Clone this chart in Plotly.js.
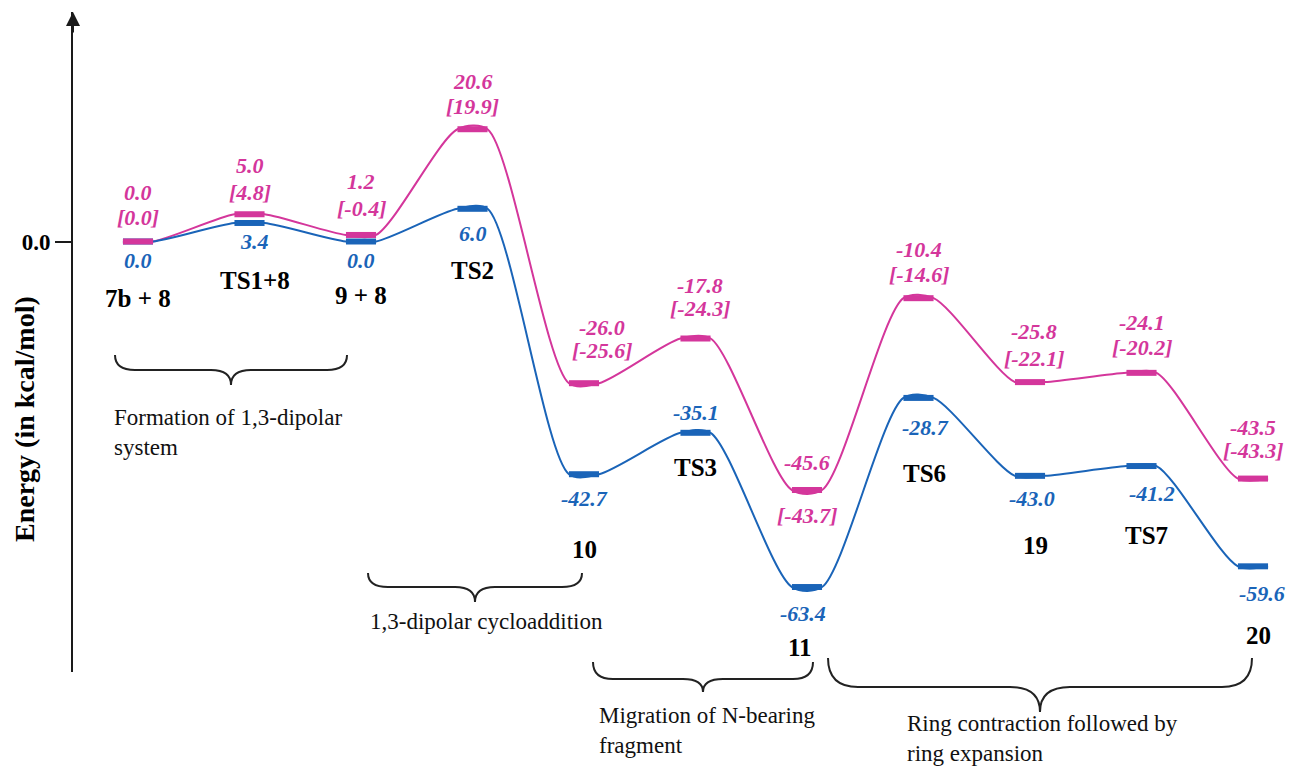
<!DOCTYPE html>
<html>
<head>
<meta charset="utf-8">
<script src="https://cdn.plot.ly/plotly-3.0.1.min.js"></script>
<style>html,body{margin:0;padding:0;background:#fff;}#chart{width:1294px;height:766px;}</style>
</head>
<body>
<div id="chart"></div>
<script>
// ---------------- data ----------------
const states = ['7b + 8', 'TS1+8', '9 + 8', 'TS2', '10', 'TS3', '11', 'TS6', '19', 'TS7', '20'];
const blueEnergy = [0.0, 3.4, 0.0, 6.0, -42.7, -35.1, -63.4, -28.7, -43.0, -41.2, -59.6];
const pinkEnergy = [0.0, 5.0, 1.2, 20.6, -26.0, -17.8, -45.6, -10.4, -25.8, -24.1, -43.5];
const pinkBracket = [0.0, 4.8, -0.4, 19.9, -25.6, -24.3, -43.7, -14.6, -22.1, -20.2, -43.3];
const axisTickValues = [0];
const axisTickLabels = ['0.0'];
const yTitle = 'Energy (in kcal/mol)';
const groupTexts = ['Formation of 1,3-dipolar<br>system', '1,3-dipolar cycloaddition',
                    'Migration of N-bearing<br>fragment', 'Ring contraction followed by<br>ring expansion'];

// ---------------- layout / style ----------------
const W = 1294, H = 766;
const L = 73, R = 0, T = 12, B = 94;
const plotW = W - L - R, plotH = H - T - B;
const BLUE = '#1a64b8', PINK = '#d4369b', INK = '#1a1a1a';
const SERIF = 'Liberation Serif';
const hw = 0.135;

// label offsets in pixels (positive = downward / rightward)
const stateDy = [57, 58, 54, 62, 75, 35, 60, 76, 70, 69, 69];
const stateDx = [0, 5, 0, 0, 0, 0, -7, 6, 5, 5, 5];
const blueDy = [19, 19, 19, 25, 24, -20, 26, 30, 23, 27, 27];
const blueDx = [0, 5, 0, 0, 0, 0, -4, 7, 2, 10, 9];
const pinkTopDy = [-49, -49, -53, -48, -56, -53, -28, -49, -51, -50, -51];
const pinkBotDy = [-24, -22, -26, -23, -33, -30, 25, -24, -24, -25, -28];
const pinkDx = [0, 0, 0, 0, 18, 4, 0, 0, 4, 0, 0];

// braces (pixel geometry) and text anchors
const braces = [
  {x0: 115, x1: 347, xc: 231, yt: 355, ym: 370, yp: 385, r: 20},
  {x0: 368, x1: 582, xc: 475, yt: 573, ym: 587, yp: 602, r: 20},
  {x0: 593, x1: 813, xc: 703, yt: 662, ym: 679, yp: 692, r: 20},
  {x0: 828, x1: 1252, xc: 1040, yt: 658, ym: 687, yp: 712, r: 30}
];
const groupTextPos = [[112, 432], [368, 621], [597, 730], [905, 738]];

const px2x = p => (p - L) / plotW;
const px2y = p => (H - B - p) / plotH;

function bracePath(b) {
  const P = (x, y) => px2x(x).toFixed(5) + ',' + px2y(y).toFixed(5);
  return 'M' + P(b.x0, b.yt) +
    ' Q' + P(b.x0, b.ym) + ' ' + P(b.x0 + b.r, b.ym) +
    ' L' + P(b.xc - b.r, b.ym) +
    ' Q' + P(b.xc, b.ym) + ' ' + P(b.xc, b.yp) +
    ' Q' + P(b.xc, b.ym) + ' ' + P(b.xc + b.r, b.ym) +
    ' L' + P(b.x1 - b.r, b.ym) +
    ' Q' + P(b.x1, b.ym) + ' ' + P(b.x1, b.yt);
}

const idx = states.map((s, i) => i);
function curveTrace(vals, color) {
  return {
    x: idx.flatMap(i => [i - hw, i + hw]),
    y: vals.flatMap(v => [v, v]),
    mode: 'lines', line: {color: color, width: 2, shape: 'spline', smoothing: 0.8},
    hoverinfo: 'skip', showlegend: false
  };
}
function barTrace(vals, color) {
  return {
    x: idx.flatMap(i => [i - hw, i + hw, null]),
    y: vals.flatMap(v => [v, v, null]),
    mode: 'lines', line: {color: color, width: 6},
    hoverinfo: 'skip', showlegend: false
  };
}

const data = [
  curveTrace(pinkEnergy, PINK), curveTrace(blueEnergy, BLUE),
  barTrace(blueEnergy, BLUE), barTrace(pinkEnergy, PINK)
];

const labelFont = (c, size) => ({family: SERIF, size: size, color: c});
const bi = s => '<b><i>' + s + '</i></b>';
const annotations = [];
idx.forEach(i => {
  annotations.push({x: i, y: blueEnergy[i], xref: 'x', yref: 'y', text: '<b>' + states[i] + '</b>', showarrow: false,
    xshift: stateDx[i], yshift: -stateDy[i], font: {family: SERIF, size: 25, color: '#000'}});
  annotations.push({x: i, y: blueEnergy[i], xref: 'x', yref: 'y', text: bi(blueEnergy[i].toFixed(1)), showarrow: false,
    xshift: blueDx[i], yshift: -blueDy[i], font: labelFont(BLUE, 22)});
  annotations.push({x: i, y: pinkEnergy[i], xref: 'x', yref: 'y', text: bi(pinkEnergy[i].toFixed(1)), showarrow: false,
    xshift: pinkDx[i], yshift: -pinkTopDy[i], font: labelFont(PINK, 22)});
  annotations.push({x: i, y: pinkEnergy[i], xref: 'x', yref: 'y', text: bi('[' + pinkBracket[i].toFixed(1) + ']'), showarrow: false,
    xshift: pinkDx[i], yshift: -pinkBotDy[i], font: labelFont(PINK, 22)});
});
groupTexts.forEach((t, k) => {
  annotations.push({x: px2x(groupTextPos[k][0]), y: px2y(groupTextPos[k][1]), xref: 'paper', yref: 'paper',
    text: t, showarrow: false, xanchor: 'left', yanchor: 'middle', align: 'left',
    font: {family: SERIF, size: 23, color: '#111'}});
});
// y-axis title (rotated)
annotations.push({x: px2x(24), y: px2y(419), xref: 'paper', yref: 'paper', text: '<b>' + yTitle + '</b>', textangle: -90,
  xanchor: 'center', yanchor: 'middle',
  showarrow: false, font: {family: SERIF, size: 28, color: '#000'}});
// arrow head on y axis
annotations.push({x: 0, y: 1, xref: 'paper', yref: 'paper', text: '', showarrow: true, ax: 0, ay: 22,
  arrowhead: 2, arrowsize: 1.4, arrowwidth: 2, arrowcolor: INK, standoff: 0, startstandoff: 0});

const shapes = braces.map(b => ({type: 'path', xref: 'paper', yref: 'paper', path: bracePath(b),
  line: {color: '#222', width: 2}}));

const y0px = 241.5, pxPerUnit = 5.45;
const idx0px = 138, pxPerIdx = 111.5;
const layout = {
  width: W, height: H,
  margin: {l: L, r: R, t: T, b: B},
  paper_bgcolor: '#fff', plot_bgcolor: '#fff',
  showlegend: false,
  xaxis: {visible: false, range: [(L - idx0px) / pxPerIdx, (W - R - idx0px) / pxPerIdx], fixedrange: true},
  yaxis: {range: [-(H - B - y0px) / pxPerUnit, (y0px - T) / pxPerUnit],
    showline: true, linewidth: 2, linecolor: INK, showgrid: false, zeroline: false,
    tickvals: axisTickValues, ticktext: axisTickLabels.map(s => '<b>' + s + '</b>'), ticks: 'outside', ticklen: 16, tickwidth: 2, tickcolor: INK,
    tickfont: {family: SERIF, size: 23, color: '#000'}, fixedrange: true},
  annotations: annotations,
  shapes: shapes
};

Plotly.newPlot('chart', data, layout, {displayModeBar: false, staticPlot: true});
</script>
</body>
</html>
